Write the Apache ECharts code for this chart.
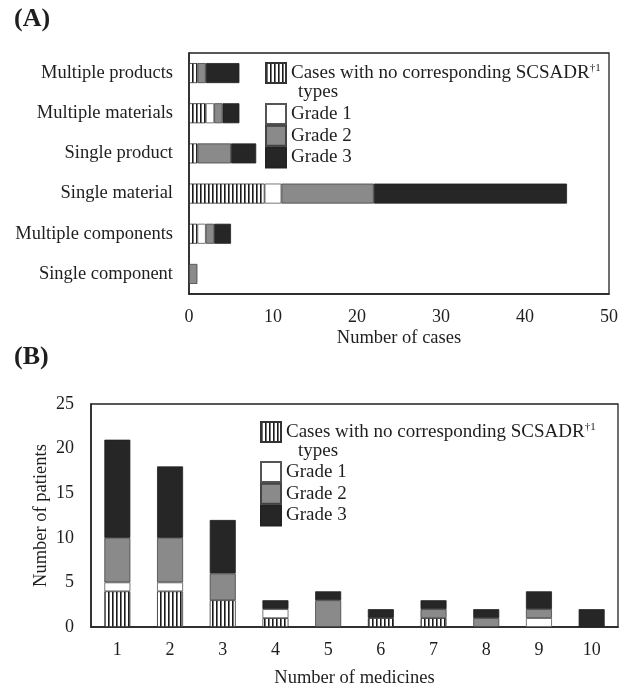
<!DOCTYPE html>
<html>
<head>
<meta charset="utf-8">
<script src="https://cdn.jsdelivr.net/npm/echarts@6/dist/echarts.min.js"></script>
<style>
html,body{margin:0;padding:0;background:#fff;}
#c{width:634px;height:691px;}
</style>
</head>
<body>
<div id="c"></div>
<script>
// ---------- Data ----------
// Panel A
const catsA = ['Multiple products', 'Multiple materials', 'Single product', 'Single material', 'Multiple components', 'Single component'];
const noTypeA = [1, 2, 1, 9, 1, 0];
const grade1A = [0, 1, 0, 2, 1, 0];
const grade2A = [1, 1, 4, 11, 1, 1];
const grade3A = [4, 2, 3, 23, 2, 0];
const ticksA = [0, 10, 20, 30, 40, 50];
// Panel B
const catsB = ['1', '2', '3', '4', '5', '6', '7', '8', '9', '10'];
const noTypeB = [4, 4, 3, 1, 0, 1, 1, 0, 0, 0];
const grade1B = [1, 1, 0, 1, 0, 0, 0, 0, 1, 0];
const grade2B = [5, 5, 3, 0, 3, 0, 1, 1, 1, 0];
const grade3B = [11, 8, 6, 1, 1, 1, 1, 1, 2, 2];
const ticksB = [0, 5, 10, 15, 20, 25];

const seriesNames = ['Cases with no corresponding SCSADR types', 'Grade 1', 'Grade 2', 'Grade 3'];

// ---------- Styles ----------
const FONT = '"Liberation Serif", "DejaVu Serif", serif';
const TXT = '#1e1e1e';
const pc = document.createElement('canvas');
pc.width = 4; pc.height = 4;
const pctx = pc.getContext('2d');
pctx.fillStyle = '#ffffff'; pctx.fillRect(0, 0, 4, 4);
pctx.fillStyle = '#1a1a1a'; pctx.fillRect(0, 0, 1.6, 4);
const hatch = { image: pc, repeat: 'repeat' };
const fills = [hatch, '#ffffff', '#8a8a8a', '#262626'];
const borders = ['#333', '#555', '#444', '#222'];

const nz = arr => arr.map(v => v === 0 ? '-' : v);

function mkSeries(dataSets, xi, yi, stack, barW) {
  return dataSets.map((d, i) => ({
    name: seriesNames[i],
    type: 'bar',
    stack: stack,
    xAxisIndex: xi, yAxisIndex: yi,
    barWidth: barW,
    data: nz(d),
    itemStyle: { color: fills[i], borderColor: borders[i], borderWidth: 0.8 },
    emphasis: { disabled: true },
    animation: false
  }));
}

const legendText = {
  fontFamily: FONT, fontSize: 19, color: TXT, lineHeight: 20,
  rich: {
    t: { fontFamily: FONT, fontSize: 19, color: TXT, lineHeight: 20 },
    s: { fontFamily: FONT, fontSize: 11, color: TXT, lineHeight: 20, padding: [0, 0, 10, 0] }
  }
};
const legendFmt = name => name === seriesNames[0] ? '{t|Cases with no corresponding SCSADR}{s|†1}' : '{t|' + name + '}';

function mkLegends(left, top1, top2) {
  return [
    { data: [seriesNames[0]], left: left, top: top1, orient: 'vertical', itemWidth: 20, itemHeight: 20, icon: 'rect',
      itemGap: 1, textStyle: legendText, formatter: legendFmt, selectedMode: false, padding: 0 },
    { data: seriesNames.slice(1), left: left, top: top2, orient: 'vertical', itemWidth: 20, itemHeight: 20, icon: 'rect',
      itemGap: -0.3, textStyle: legendText, formatter: legendFmt, selectedMode: false, padding: 0 }
  ];
}

const axisLineStyle = { show: true, lineStyle: { color: '#222', width: 1.5 } };
const labelStyle = { fontFamily: FONT, fontSize: 18, color: TXT };
const nameStyle = { fontFamily: FONT, fontSize: 18.5, color: TXT };

const chart = echarts.init(document.getElementById('c'), null, { renderer: 'canvas' });
chart.setOption({
  backgroundColor: '#ffffff',
  animation: false,
  grid: [
    { left: 189, top: 53, width: 420, height: 241, show: true, borderColor: '#222', borderWidth: 1.3, backgroundColor: 'transparent' },
    { left: 91, top: 404, width: 527, height: 223, show: true, borderColor: '#222', borderWidth: 1.3, backgroundColor: 'transparent' }
  ],
  xAxis: [
    { type: 'value', gridIndex: 0, min: ticksA[0], max: ticksA[ticksA.length - 1], interval: ticksA[1] - ticksA[0],
      splitLine: { show: false }, axisTick: { show: false }, axisLine: axisLineStyle,
      axisLabel: Object.assign({ margin: 14 }, labelStyle),
      name: 'Number of cases', nameLocation: 'middle', nameGap: 35, nameMoveOverlap: false, nameTextStyle: nameStyle },
    { type: 'category', gridIndex: 1, data: catsB,
      axisTick: { show: false }, axisLine: axisLineStyle,
      axisLabel: Object.assign({ margin: 14 }, labelStyle),
      name: 'Number of medicines', nameLocation: 'middle', nameGap: 42, nameMoveOverlap: false, nameTextStyle: nameStyle }
  ],
  yAxis: [
    { type: 'category', gridIndex: 0, data: catsA, inverse: true,
      axisTick: { show: false }, axisLine: axisLineStyle,
      axisLabel: Object.assign({ margin: 16 }, nameStyle) },
    { type: 'value', gridIndex: 1, min: ticksB[0], max: ticksB[ticksB.length - 1], interval: ticksB[1] - ticksB[0],
      splitLine: { show: false }, axisTick: { show: false }, axisLine: axisLineStyle,
      axisLabel: Object.assign({ margin: 17 }, labelStyle),
      name: 'Number of patients', nameLocation: 'middle', nameGap: 40, nameMoveOverlap: false, nameTextStyle: nameStyle }
  ],
  legend: mkLegends(265, 62, 103).concat(mkLegends(260, 421, 461)),
  series: mkSeries([noTypeA, grade1A, grade2A, grade3A], 0, 0, 'A', 20)
    .concat(mkSeries([noTypeB, grade1B, grade2B, grade3B], 1, 1, 'B', 26)),
  graphic: [
    { type: 'text', left: 14, top: 6, style: { text: '(A)', font: 'bold 26px ' + FONT, fill: TXT } },
    { type: 'text', left: 14, top: 344, style: { text: '(B)', font: 'bold 26px ' + FONT, fill: TXT } },
    { type: 'text', left: 298, top: 83, style: { text: 'types', font: '19px ' + FONT, fill: TXT } },
    { type: 'text', left: 298, top: 442, style: { text: 'types', font: '19px ' + FONT, fill: TXT } }
  ]
});
</script>
</body>
</html>
